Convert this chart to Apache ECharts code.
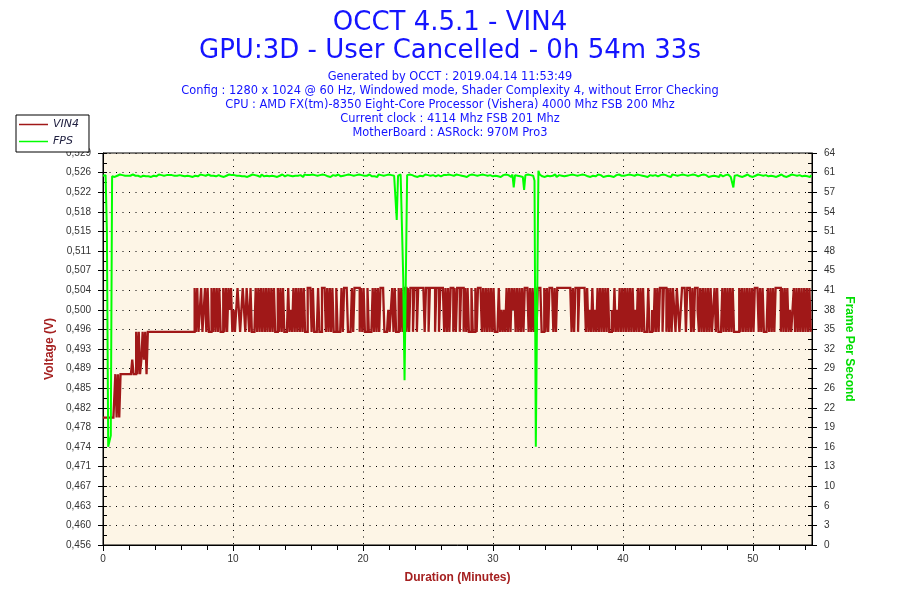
<!DOCTYPE html>
<html>
<head>
<meta charset="utf-8">
<title>OCCT 4.5.1 - VIN4</title>
<script src="https://cdn.jsdelivr.net/npm/echarts/dist/echarts.min.js"></script>
<style>
  html, body { margin: 0; padding: 0; background: #fff; }
  #chart { width: 900px; height: 600px; }
</style>
</head>
<body>
<div id="chart"></div>
<script>
const titleLines = ['OCCT 4.5.1 - VIN4', 'GPU:3D - User Cancelled - 0h 54m 33s'];
const infoLines = [
    'Generated by OCCT : 2019.04.14 11:53:49',
    'Config : 1280 x 1024 @ 60 Hz, Windowed mode, Shader Complexity 4, without Error Checking',
    'CPU : AMD FX(tm)-8350 Eight-Core Processor (Vishera) 4000 Mhz FSB 200 Mhz',
    'Current clock : 4114 Mhz FSB 201 Mhz',
    'MotherBoard : ASRock: 970M Pro3'
];

const voltTickLabels = ['0,456', '0,460', '0,463', '0,467', '0,471', '0,474', '0,478', '0,482', '0,485', '0,489',
    '0,493', '0,496', '0,500', '0,504', '0,507', '0,511', '0,515', '0,518', '0,522', '0,526', '0,529'];
const fpsTickLabels = ['0', '3', '6', '10', '13', '16', '19', '22', '26', '29', '32', '35', '38', '41', '45',
    '48', '51', '54', '57', '61', '64'];
const xLabelValues = [0, 10, 20, 30, 40, 50];
const xMinorTickValues = [0, 2, 4, 6, 8, 10, 12, 14, 16, 18, 20, 22, 24, 26, 28, 30, 32, 34, 36, 38, 40,
    42, 44, 46, 48, 50, 52, 54];

const durationMax = 54.55;   // 0h 54m 33s
const sampleStep = 0.1;      // minutes between two samples

// VIN4, one letter per sample
const vinLevelValues = { a: 0.4798, b: 0.4879, c: 0.4906, L: 0.4958, M: 0.4999, H: 0.5040 };
const vinLevels = [
    'aaaaaaaaaa', 'babab', 'bbbbbbbb', 'cbbLbLbcLcLbLL',
    'LLLLLLLLLLLLLLLLLLLLLLLLLLLLLLLLLL',
    'HLHLMHLMHLHLLHLHLHLHLLHLHLHMHL', 'MLMHMLMHMLHMLHL', 'LL',
    'HLHLHLHLHL', 'HLHLHLLHLH', 'LHLLLHLMLH', 'LHLHLHLHLL', 'HHHLHLLLHL',
    'LHHHLHLHLH', 'LLHLLLHLHH', 'HLLLHLHHHH', 'LHLHLLHLLL', 'HLHLHLHHHL',
    'LLMLMHLHLL', 'HLHLHHLHLH', 'HLHHLHHHHH', 'LHHLHHHHLH', 'HLHHHLHLHL',
    'HHLHLHHLHH', 'LHLHLLHLLH', 'LHHHLHLHLH', 'LHLHLLLHLM', 'LMLHLHLHMH',
    'LHLHLHLHHH', 'LHLHLHLHHH', 'LLHLHLHHHL', 'HLHHHHHHHH', 'HHHLHLHHLH',
    'HHHHLHLMLH', 'LMLHLHLHLH', 'LHLLMLHLML', 'HLHLHLHLHL', 'HLMLHLHLHL',
    'LLHLLMLHLH', 'LHHLHHLHLH', 'LHMLHMLMHH', 'HLHHHLHLHH', 'MLHLHLHLHL',
    'HLMHLHLLLH', 'LHLHLHLHLL', 'LLHLHLHLHL', 'HLHLHHHLHL', 'HLLLHLHLHL',
    'HHHHLHLHLH', 'LMLMHLHLHL', 'HLHLHLHL'
];

// FPS around 60: digit d means 59.6 + d / 10
const fpsNoise = [
    '54655464536547564535654765456355647453655467564536',
    '46564575463564756453655467564537654564765453654756',
    '46356574645365475645637546564756453654764563564756',
    '54653756464756453657465473564567546536475645365746',
    '35654764546375645364756453654764536574654736564574',
    '64536547654563657464537564564735647564536574645365',
    '47564535647465375645647356475645365476453657465473',
    '56456475364756453657465473656457465364756453564765',
    '45365746453756456473564576543657465463756453647564',
    '53657465436574653647564537645647536457654536547645',
    '3654756453654756453654764536547564536547564536'
];
// FPS drops, by sample index
const fpsDrops = { 3: 51, 4: 16, 5: 16, 6: 17.8, 226: 52.9, 231: 43.4, 232: 26.8, 233: 43.4,
    316: 58.2, 324: 57.8, 332: 59.3, 333: 16, 334: 16, 335: 60.9, 485: 58.2 };

const vinColor = '#a01818';
const fpsColor = '#00ff00';
const axisNameColor = '#a52020';
const blue = '#1414ff';

const vinData = vinLevels.join('').split('').map((c, i) => [+(i * sampleStep).toFixed(1), vinLevelValues[c]]);
const fpsDigits = fpsNoise.join('');
const fpsData = vinData.map((p, i) => [p[0], fpsDrops[i] !== undefined ? fpsDrops[i] : 59.6 + Number(fpsDigits[i]) / 10]);

const black = { color: '#000', width: 1 };
const tickFont = { color: '#333', fontSize: 10, fontFamily: 'Liberation Sans' };
const nameFont = { fontWeight: 'bold', fontSize: 12, fontFamily: 'Liberation Sans' };

const titles = [
    { text: titleLines[0], top: 10, fontSize: 26 },
    { text: titleLines[1], top: 38, fontSize: 26 },
].concat(infoLines.map((t, i) => ({ text: t, top: 71.5 + i * 14, fontSize: 11.4 })));

const labelAxis = (position, labels, name, nameColor, nameGap, nameRotate) => ({
    type: 'value', position: position, min: 0, max: 20, interval: 1,
    name: name, nameLocation: 'middle', nameGap: nameGap, nameRotate: nameRotate, nameMoveOverlap: false,
    nameTextStyle: Object.assign({ color: nameColor }, nameFont),
    axisLine: { show: true, lineStyle: black },
    axisTick: { show: true, length: 5, lineStyle: black },
    axisLabel: Object.assign({ margin: 12, formatter: v => labels[Math.round(v)] }, tickFont),
    splitLine: { show: position === 'left', lineStyle: { color: '#000', width: 1, type: [1, 5.5] } }
});
const innerTickAxis = (position) => ({
    type: 'value', position: position, min: 0, max: 20, interval: 1,
    axisLine: { show: false },
    axisTick: { show: true, inside: true, length: 4, lineStyle: black },
    minorTick: { show: true, splitNumber: 2, length: 4, lineStyle: black },
    axisLabel: { show: false },
    splitLine: { show: false }
});

const option = {
    animation: false,
    backgroundColor: '#fff',
    title: titles.map(t => ({
        text: t.text, left: 'center', top: t.top, padding: 0,
        textStyle: { fontFamily: 'DejaVu Sans', fontWeight: 'normal', fontSize: t.fontSize, color: blue }
    })),
    legend: {
        orient: 'vertical', left: 16, top: 115,
        padding: [4, 10, 5, 3], itemGap: 6, itemWidth: 29, itemHeight: 1.5,
        icon: 'rect',
        backgroundColor: '#fff', borderColor: '#000', borderWidth: 1, borderRadius: 0,
        textStyle: { fontFamily: 'DejaVu Sans', fontStyle: 'italic', fontSize: 11, color: '#202040' },
        data: ['VIN4', 'FPS']
    },
    grid: {
        left: 103, right: 88, top: 153, bottom: 55,
        show: true, backgroundColor: '#fdf5e6', borderColor: '#000', borderWidth: 1
    },
    xAxis: [
        {
            type: 'value', min: 0, max: durationMax, interval: 10,
            name: 'Duration (Minutes)', nameLocation: 'middle', nameGap: 27, nameMoveOverlap: false,
            nameTextStyle: Object.assign({ color: axisNameColor }, nameFont),
            axisLine: { lineStyle: black },
            axisTick: { length: 6, lineStyle: black, customValues: xLabelValues },
            axisLabel: Object.assign({ margin: 9, customValues: xLabelValues }, tickFont),
            splitLine: { show: true, lineStyle: { color: '#000', width: 1, type: [1, 5.5] } }
        },
        {
            type: 'value', min: 0, max: durationMax, position: 'bottom',
            axisLine: { show: false },
            axisTick: { length: 5, lineStyle: black, customValues: xMinorTickValues },
            axisLabel: { show: false },
            splitLine: { show: false }
        }
    ],
    yAxis: [
        { type: 'value', min: 0.456, max: 0.5292, show: false },
        { type: 'value', min: 0, max: 63.8, show: false },
        labelAxis('left', voltTickLabels, 'Voltage (V)', axisNameColor, 47),
        innerTickAxis('left'),
        labelAxis('right', fpsTickLabels, 'Frame Per Second', '#00dd00', 31, -90),
        innerTickAxis('right')
    ],
    series: [
        {
            name: 'VIN4', type: 'line', xAxisIndex: 0, yAxisIndex: 0,
            data: vinData, symbol: 'none', step: 'middle', z: 2,
            lineStyle: { width: 2.3, color: vinColor, join: 'miter', cap: 'butt' }, itemStyle: { color: vinColor }
        },
        {
            name: 'FPS', type: 'line', xAxisIndex: 0, yAxisIndex: 1,
            data: fpsData, symbol: 'none', z: 3,
            lineStyle: { width: 2, color: fpsColor }, itemStyle: { color: fpsColor }
        }
    ]
};

const chart = echarts.init(document.getElementById('chart'), null, { renderer: 'canvas' });
chart.setOption(option);
</script>
</body>
</html>
